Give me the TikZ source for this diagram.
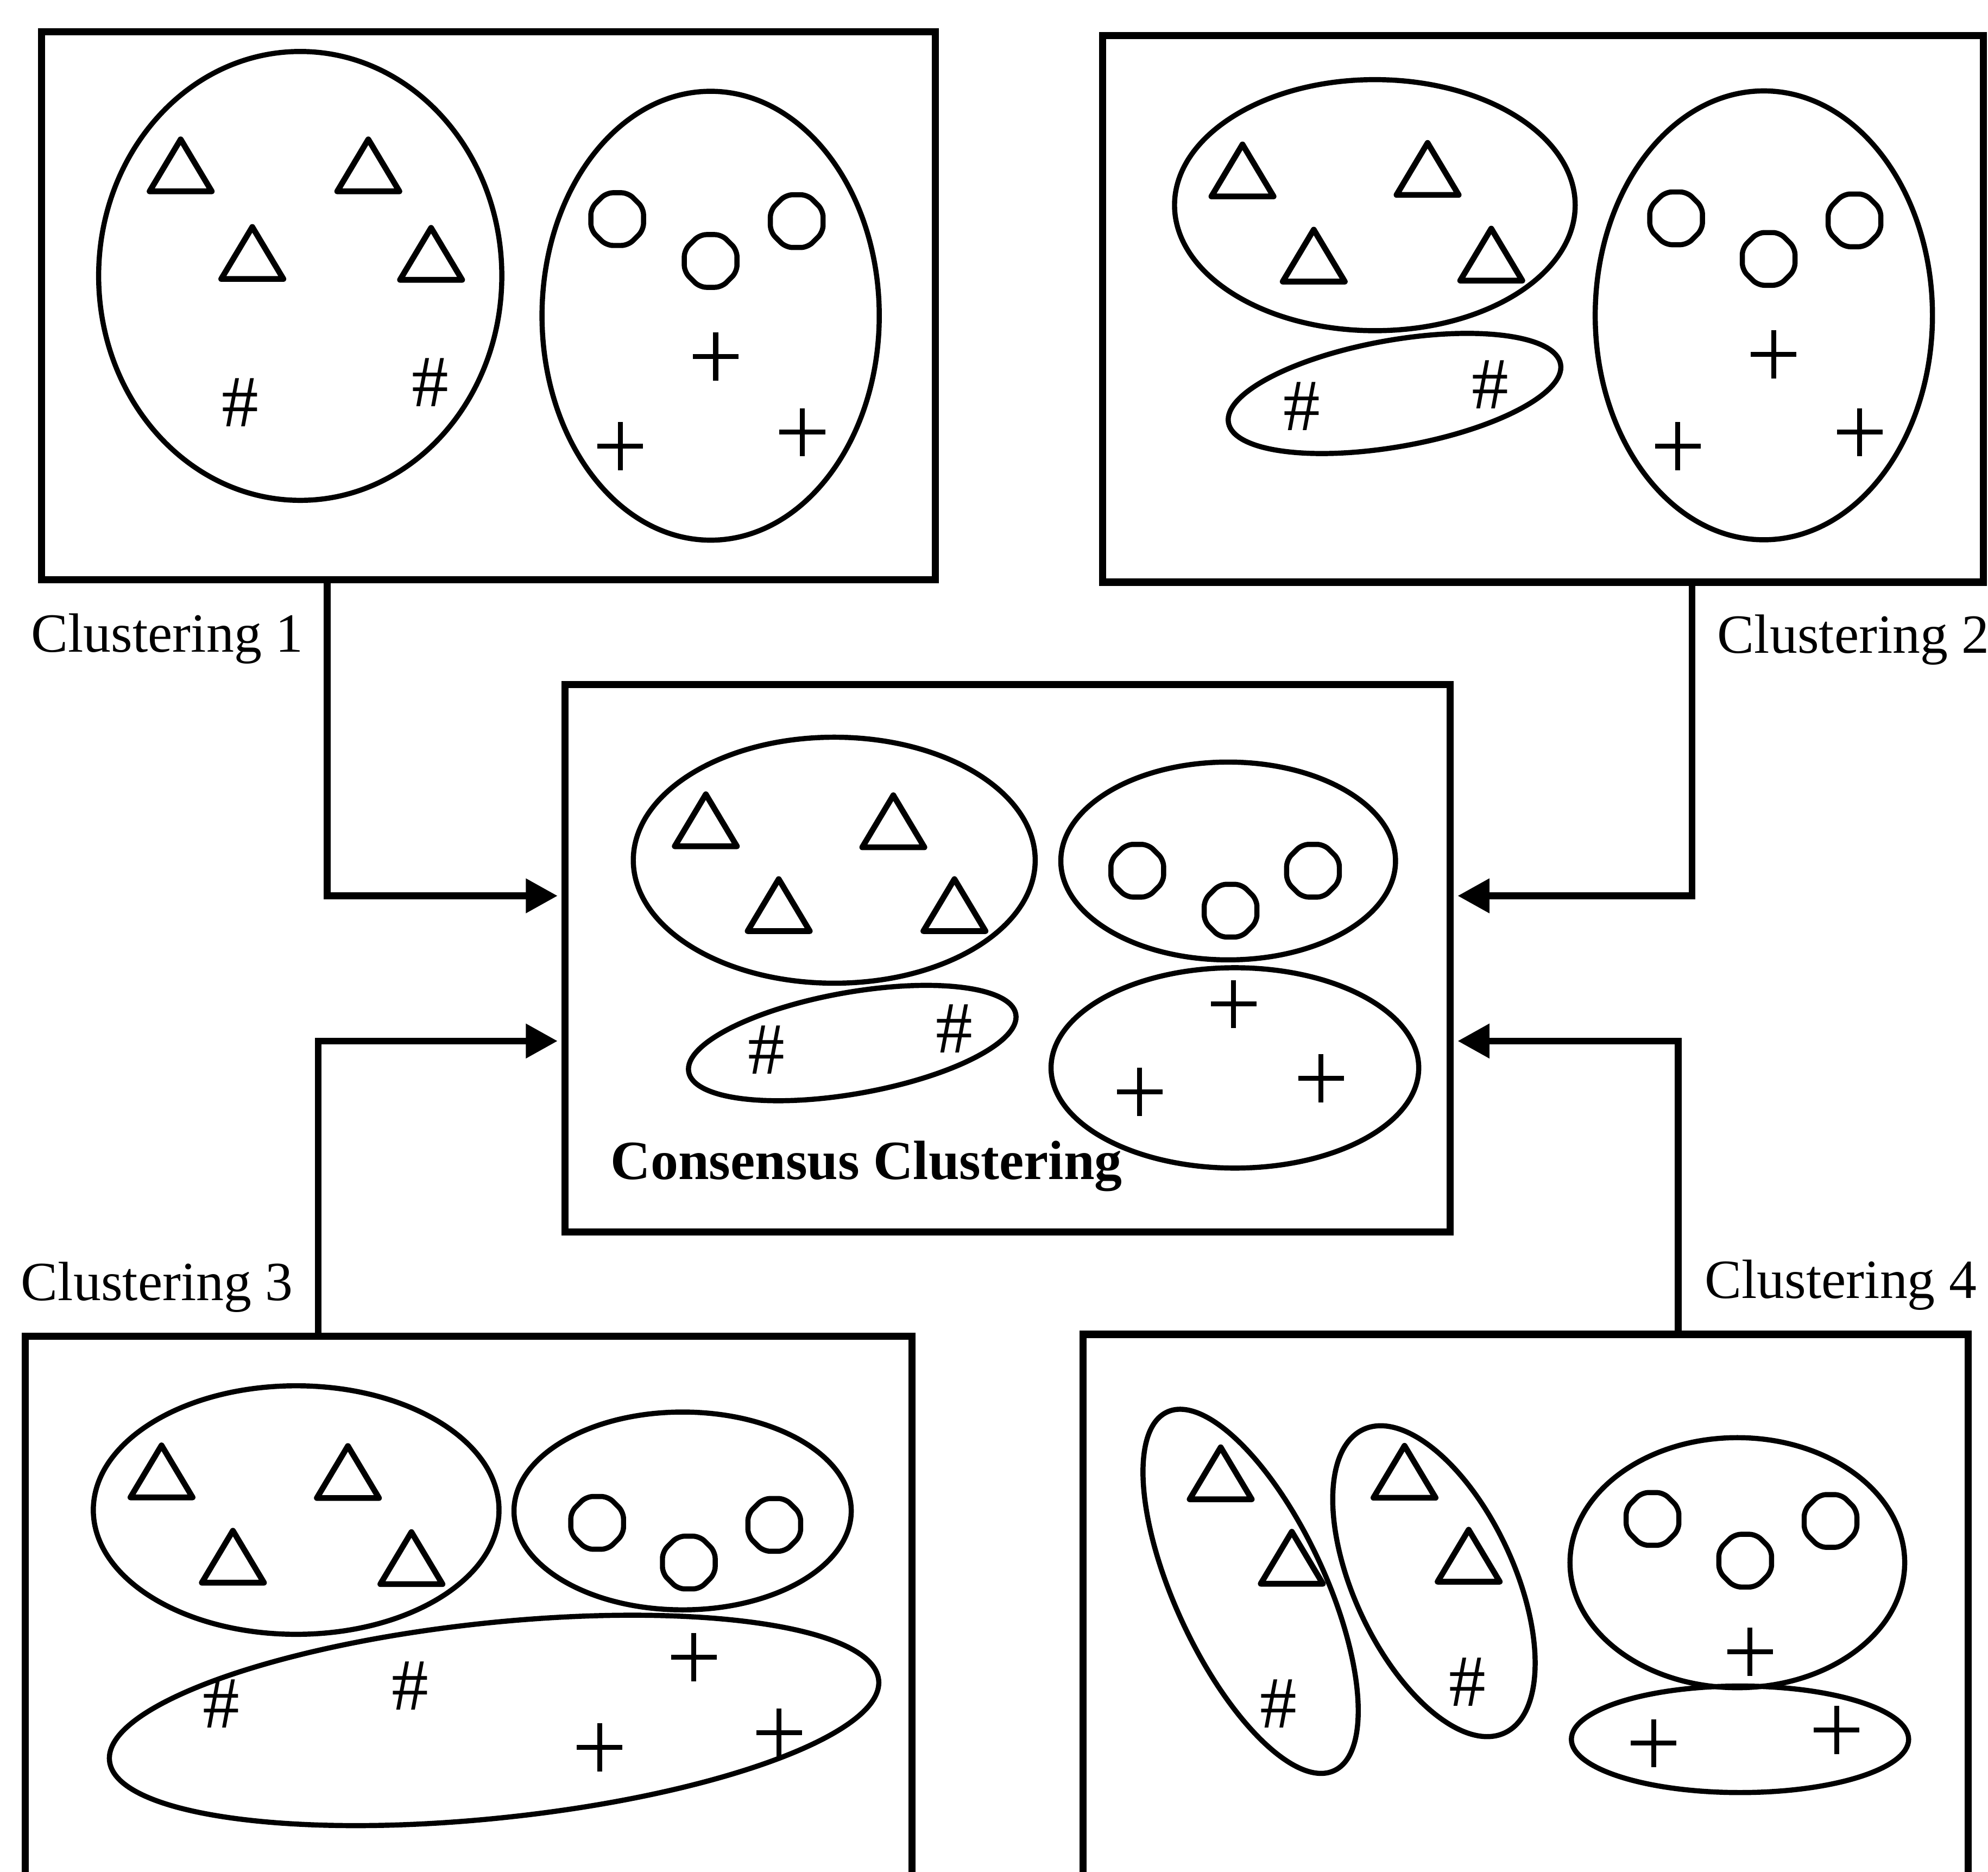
\documentclass[tikz,border=0pt]{standalone}
\usepackage{fontspec}
\setmainfont{Liberation Serif}
\usetikzlibrary{arrows.meta}

\tikzset{
  box/.style={draw, line width=1.6pt, rectangle, inner sep=0pt, outer sep=0pt},
  hull/.style={draw, line width=1.15pt},
  conn/.style={line width=1.5pt, -{Triangle[length=0.25cm, width=0.26cm]}, shorten >=0.06cm},
  lab/.style={inner sep=0pt, anchor=base west, font=\fontsize{12.4}{14}\selectfont},
  hashmark/.style={inner sep=0pt, font=\fontsize{16.5}{18}\selectfont},
  trimark/.pic={\draw[line width=1.3pt, line join=round] (0,-20.5) -- (24.5,20.5) -- (-24.5,20.5) -- cycle;},
  ringmark/.pic={\draw[line width=1.15pt, rounded corners=1.5pt]
      (22.5:22.5) -- (67.5:22.5) -- (112.5:22.5) -- (157.5:22.5) -- (202.5:22.5)
      -- (247.5:22.5) -- (292.5:22.5) -- (337.5:22.5) -- cycle;},
  plusmark/.pic={\draw[line width=1.1pt] (-18,0) -- (18,0) (0,-19) -- (0,19);}
}

\begin{document}
\begin{tikzpicture}[x=0.01cm, y=-0.01cm]
\fill[white] (0,0) rectangle (1568,1476);
\clip (0,0) rectangle (1568,1476);

% ---------- Clustering 1 ----------
\node[box, minimum width=7.045cm, minimum height=4.32cm] (c1) at (385.25,241) {};
\draw[hull] (236.8,217.6) ellipse [x radius=159, y radius=177];
\draw[hull] (560.5,249) ellipse [x radius=133, y radius=177];
\foreach \p in {(142.5,130.4),(290.5,130.4),(199,199.5),(340,200.2)} \pic at \p {trimark};
\foreach \p in {(486.8,172.8),(560.5,205.8),(628.4,174.4)} \pic at \p {ringmark};
\foreach \p in {(564.5,281.2),(489.2,351.9),(632.8,340.9)} \pic at \p {plusmark};
\node[hashmark] (h1a) at (189.3,317.3) {\#};
\node[hashmark] (h1b) at (339.3,301.6) {\#};
\node[lab] (l1) at (24,514) {Clustering 1};

% ---------- Clustering 2 ----------
\node[box, minimum width=6.94cm, minimum height=4.31cm] (c2) at (1217,243.5) {};
\draw[hull] (1084.4,161.8) ellipse [x radius=158, y radius=99];
\draw[hull, rotate around={10:(1099.9,310.3)}] (1099.9,310.3) ellipse [x radius=133, y radius=42];
\draw[hull] (1391.2,248.7) ellipse [x radius=133, y radius=177];
\foreach \p in {(980,134.4),(1126,133.2),(1036.2,201.6),(1176.2,200.8)} \pic at \p {trimark};
\foreach \p in {(1322,172.2),(1395,204.2),(1462.7,173.8)} \pic at \p {ringmark};
\foreach \p in {(1399,279.6),(1323.4,351.9),(1466.9,340.9)} \pic at \p {plusmark};
\node[hashmark] (h2a) at (1026.7,320.5) {\#};
\node[hashmark] (h2b) at (1175.3,303.2) {\#};
\node[lab] (l2) at (1354,515) {Clustering 2};

% ---------- Consensus clustering ----------
\node[box, minimum width=6.975cm, minimum height=4.315cm] (cc) at (794.75,755.75) {};
\draw[hull] (658,678.4) ellipse [x radius=158.5, y radius=97];
\draw[hull] (968.7,679) ellipse [x radius=132, y radius=78];
\draw[hull, rotate around={10:(672.2,822.6)}] (672.2,822.6) ellipse [x radius=131, y radius=40];
\draw[hull] (974,842.2) ellipse [x radius=145, y radius=79];
\foreach \p in {(556.7,646.9),(704.6,647.7),(614.2,713.8),(752.8,713.8)} \pic at \p {trimark};
\foreach \p in {(897,686.7),(970.6,718.2),(1035.6,686.7)} \pic at \p {ringmark};
\foreach \p in {(973,791.9),(898.9,861),(1042,850.5)} \pic at \p {plusmark};
\node[hashmark] (hca) at (604.3,828) {\#};
\node[hashmark] (hcb) at (752.8,811.4) {\#};
\node[lab, font=\fontsize{12.4}{14}\selectfont\bfseries] (lc) at (481,930) {Consensus Clustering};

% ---------- Clustering 3 ----------
\node[box, minimum width=6.99cm, minimum height=5.46cm] (c3) at (369.5,1327) {};
\draw[hull] (233.6,1190.9) ellipse [x radius=160, y radius=98];
\draw[hull] (538.4,1191.6) ellipse [x radius=133, y radius=78];
\draw[hull, rotate around={6:(389.7,1356.8)}] (389.7,1356.8) ellipse [x radius=305, y radius=77];
\foreach \p in {(127.4,1160.4),(274.4,1160.9),(183.7,1227.7),(324.5,1228.8)} \pic at \p {trimark};
\foreach \p in {(471,1201),(543.3,1232.3),(610.7,1202.6)} \pic at \p {ringmark};
\foreach \p in {(547.3,1306.9),(473,1378),(614.6,1366.4)} \pic at \p {plusmark};
\node[hashmark] (h3a) at (174.6,1343.5) {\#};
\node[hashmark] (h3b) at (323.5,1329.4) {\#};
\node[lab] (l3) at (16,1025.7) {Clustering 3};

% ---------- Clustering 4 ----------
\node[box, minimum width=6.974cm, minimum height=5.475cm] (c4) at (1203.3,1326.25) {};
\draw[hull, rotate around={25:(986.4,1255)}] (986.4,1255) ellipse [x radius=59, y radius=156];
\draw[hull, rotate around={25:(1131,1247)}] (1131,1247) ellipse [x radius=63, y radius=132];
\draw[hull] (1370.3,1232.4) ellipse [x radius=132, y radius=98.6];
\draw[hull] (1372.4,1371.7) ellipse [x radius=133, y radius=42];
\foreach \p in {(962.8,1161.9),(1018.9,1228.5),(1107.8,1160.7),(1158.4,1226.9)} \pic at \p {trimark};
\foreach \p in {(1303.4,1197.9),(1376.5,1230.8),(1443.8,1199.5)} \pic at \p {ringmark};
\foreach \p in {(1380.3,1302.8),(1304.3,1374.8),(1448.6,1364.5)} \pic at \p {plusmark};
\node[hashmark] (h4a) at (1008.5,1343.5) {\#};
\node[hashmark] (h4b) at (1157.6,1326.3) {\#};
\node[lab] (l4) at (1344,1024) {Clustering 4};

% ---------- connectors into the consensus box ----------
\coordinate (k1) at (258,706.5);
\coordinate (k2) at (1334.5,706.5);
\coordinate (k3) at (251,821);
\coordinate (k4) at (1323.6,821);
\draw[conn] (c1.south -| k1) |- (cc.west |- k1);
\draw[conn] (c2.south -| k2) |- (cc.east |- k2);
\draw[conn] (c3.north -| k3) |- (cc.west |- k3);
\draw[conn] (c4.north -| k4) |- (cc.east |- k4);
\end{tikzpicture}
\end{document}
